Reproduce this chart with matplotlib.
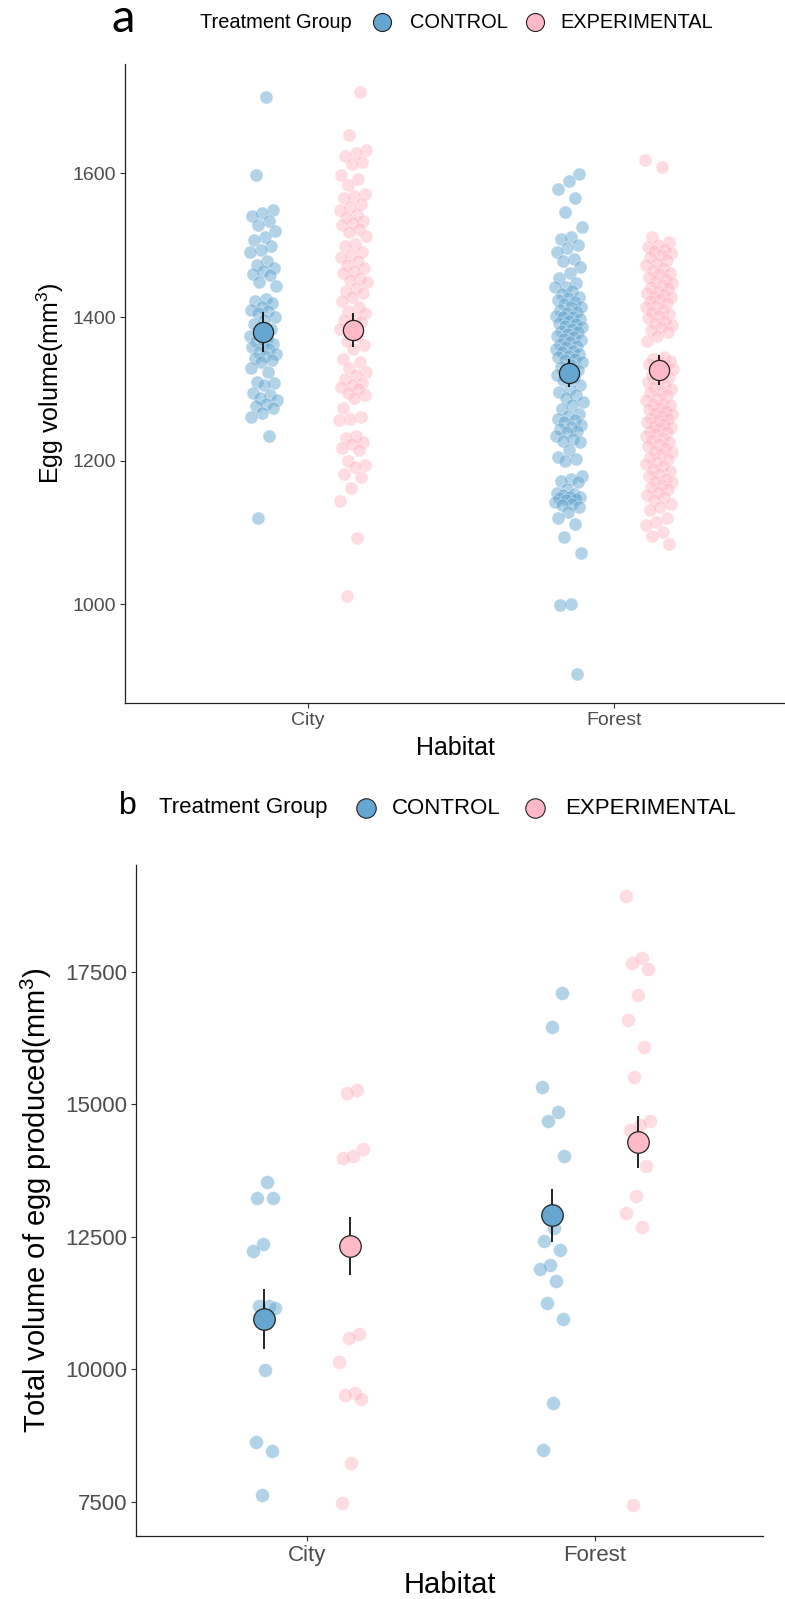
import matplotlib
matplotlib.use('Agg')
import matplotlib.pyplot as plt
from matplotlib.lines import Line2D

plt.rcParams['font.family'] = ['Liberation Sans', 'DejaVu Sans']
plt.rcParams['mathtext.fontset'] = 'custom'
plt.rcParams['mathtext.rm'] = 'Liberation Sans'
plt.rcParams['mathtext.it'] = 'Liberation Sans:italic'

# ---------------- data ----------------
habitats = ['City', 'Forest']
groups = ['CONTROL', 'EXPERIMENTAL']
group_colors = ['#65A7D0', '#FFB8C6']

# Panel a: individual egg volumes (mm^3)
a_city_control = [1707, 1598, 1549, 1545, 1541, 1534, 1528, 1520, 1512, 1507, 1499, 1494,
                  1490, 1478, 1472, 1469, 1464, 1460, 1458, 1449, 1443, 1425, 1422, 1420,
                  1414, 1410, 1408, 1405, 1400, 1396, 1390, 1384, 1378, 1373, 1370, 1367,
                  1363, 1361, 1358, 1355, 1352, 1349, 1346, 1343, 1340, 1338, 1329, 1323,
                  1310, 1308, 1305, 1294, 1291, 1288, 1285, 1279, 1276, 1273, 1267, 1261,
                  1235, 1120]
a_city_exp = [1714, 1654, 1633, 1628, 1625, 1616, 1613, 1598, 1592, 1584, 1572, 1569,
              1566, 1557, 1554, 1549, 1543, 1540, 1534, 1531, 1528, 1522, 1519, 1513,
              1502, 1499, 1490, 1487, 1484, 1478, 1472, 1469, 1464, 1461, 1455, 1452,
              1449, 1440, 1437, 1434, 1428, 1423, 1414, 1408, 1405, 1399, 1396, 1393,
              1390, 1384, 1373, 1367, 1361, 1355, 1341, 1338, 1329, 1323, 1320, 1314,
              1308, 1305, 1302, 1300, 1294, 1291, 1288, 1273, 1261, 1258, 1256, 1235,
              1232, 1226, 1223, 1218, 1215, 1200, 1194, 1191, 1182, 1177, 1162, 1144,
              1093, 1011]
a_forest_control = [1599, 1589, 1578, 1566, 1547, 1525, 1512, 1509, 1501, 1496, 1490, 1481,
                    1478, 1470, 1462, 1455, 1447, 1442, 1442, 1436, 1432, 1428, 1426, 1424,
                    1421, 1418, 1414, 1414, 1410, 1407, 1405, 1402, 1400, 1400, 1397, 1395,
                    1392, 1390, 1388, 1386, 1384, 1381, 1379, 1377, 1374, 1372, 1370, 1368,
                    1365, 1362, 1360, 1358, 1356, 1353, 1351, 1348, 1346, 1344, 1342, 1340,
                    1337, 1333, 1330, 1326, 1323, 1320, 1316, 1312, 1305, 1300, 1296, 1291,
                    1287, 1282, 1277, 1272, 1265, 1262, 1258, 1256, 1254, 1250, 1247, 1244,
                    1242, 1240, 1235, 1230, 1228, 1226, 1215, 1205, 1203, 1200, 1178, 1175,
                    1172, 1170, 1160, 1155, 1154, 1152, 1150, 1149, 1148, 1147, 1145, 1142,
                    1140, 1138, 1135, 1128, 1120, 1112, 1094, 1072, 1000, 999, 903]
a_forest_exp = [1619, 1609, 1511, 1505, 1501, 1498, 1495, 1492, 1489, 1486, 1483, 1480,
                1476, 1472, 1468, 1465, 1462, 1460, 1456, 1453, 1450, 1447, 1444, 1442,
                1440, 1437, 1434, 1432, 1430, 1428, 1425, 1422, 1419, 1416, 1414, 1410,
                1407, 1404, 1402, 1399, 1395, 1392, 1389, 1386, 1382, 1379, 1373, 1367,
                1345, 1342, 1339, 1337, 1335, 1333, 1330, 1327, 1323, 1320, 1316, 1313,
                1309, 1305, 1302, 1300, 1297, 1295, 1291, 1288, 1284, 1281, 1279, 1277,
                1274, 1272, 1269, 1267, 1265, 1262, 1260, 1258, 1256, 1254, 1251, 1249,
                1247, 1245, 1242, 1240, 1237, 1235, 1232, 1229, 1226, 1223, 1220, 1217,
                1214, 1212, 1209, 1205, 1202, 1198, 1195, 1192, 1189, 1185, 1182, 1178,
                1175, 1172, 1170, 1166, 1163, 1160, 1156, 1152, 1149, 1145, 1140, 1136,
                1131, 1120, 1115, 1110, 1101, 1095, 1084]
# order: City-CONTROL, City-EXPERIMENTAL, Forest-CONTROL, Forest-EXPERIMENTAL
a_means = [1379, 1382, 1322, 1326]
a_se = [28, 23, 20, 21]

# Panel b: total egg volume per clutch (mm^3)
b_city_control = [13542, 13240, 13240, 12360, 12240, 11195, 11195, 11150, 9987, 8627, 8463, 7626]
b_city_exp = [15273, 15223, 14159, 14033, 13989, 10666, 10585, 10132, 9547, 9509, 9433, 8225, 7470]
b_forest_control = [17109, 16466, 15330, 14854, 14680, 14031, 12660, 12426, 12252, 11977,
                    11890, 11673, 11248, 10944, 9367, 8482]
b_forest_exp = [18945, 17775, 17671, 17567, 17065, 16587, 16085, 15520, 14697, 14612, 14523,
                13834, 13268, 12947, 12686, 7441]
b_means = [10944, 12333, 12904, 14291]
b_se = [565, 548, 500, 499]

a_yticks = [1000, 1200, 1400, 1600]
b_yticks = [7500, 10000, 12500, 15000, 17500]

# ---------------- figure ----------------
W, H = 785, 1599
fig = plt.figure(figsize=(W / 100, H / 100), dpi=100)


def fx(px):
    return px / W


def fy(py):
    return 1 - py / H


def jitter(n, w, phase):
    return [(((i + 1) * 0.6180339887 + phase) % 1 - 0.5) * 2 * w for i in range(n)]


def draw_panel(ax, series, means, ses, dodge, jw, pt_s, mean_ms, ylim, yticks,
               xlim, tick_fs, title_fs, ylabel, ylab_x, xlab_y):
    pos = [1 - dodge, 1 + dodge, 2 - dodge, 2 + dodge]
    cols = [group_colors[0], group_colors[1], group_colors[0], group_colors[1]]
    for k, vals in enumerate(series):
        xs = [pos[k] + j for j in jitter(len(vals), jw, 0.13 * k)]
        ax.scatter(xs, vals, s=pt_s, color=cols[k], alpha=0.5,
                   edgecolors='white', linewidths=0.5, zorder=2)
    for k in range(4):
        ax.errorbar(pos[k], means[k], yerr=ses[k], fmt='none', ecolor='black',
                    elinewidth=1.2, capsize=0, zorder=3)
        ax.plot(pos[k], means[k], 'o', ms=mean_ms, mfc=cols[k], mec='#222222',
                mew=0.9, zorder=4)
    ax.set_xlim(*xlim)
    ax.set_ylim(*ylim)
    ax.set_xticks([1, 2])
    ax.set_xticklabels(habitats)
    ax.set_yticks(yticks)
    ax.set_yticklabels([str(t) for t in yticks])
    for s in ['top', 'right']:
        ax.spines[s].set_visible(False)
    for s in ['left', 'bottom']:
        ax.spines[s].set_linewidth(0.9)
        ax.spines[s].set_color('#222222')
    ax.tick_params(axis='both', length=3.5, width=0.8, color='#333333',
                   labelcolor='#4D4D4D', labelsize=tick_fs, pad=3)
    ax.set_xlabel('Habitat', fontsize=title_fs, color='black')
    ax.set_ylabel(ylabel, fontsize=title_fs, color='black')
    ax.yaxis.set_label_coords(ylab_x, 0.5)
    ax.xaxis.set_label_coords(0.5, xlab_y)
    ax.xaxis.label.set_va('center')
    ax.yaxis.label.set_va('center')


# Panel a axes: x 125..785 px, y 64..703 px
axa = fig.add_axes([fx(125), fy(703), fx(785) - fx(125), fy(64) - fy(703)])
draw_panel(axa, [a_city_control, a_city_exp, a_forest_control, a_forest_exp],
           a_means, a_se, dodge=0.147, jw=0.045, pt_s=88, mean_ms=14.5,
           ylim=(862.5, 1752.5), yticks=a_yticks, xlim=(0.402, 2.559),
           tick_fs=14, title_fs=18, ylabel='Egg volume(mm$^{3}$)',
           ylab_x=(50 - 125) / 660, xlab_y=-(748 - 703) / 639)

# Panel b axes: x 136..763 px, y 865..1536 px
axb = fig.add_axes([fx(136), fy(1536), fx(763) - fx(136), fy(865) - fy(1536)])
draw_panel(axb, [b_city_control, b_city_exp, b_forest_control, b_forest_exp],
           b_means, b_se, dodge=0.15, jw=0.045, pt_s=100, mean_ms=15.5,
           ylim=(6852, 19522), yticks=b_yticks, xlim=(0.406, 2.583),
           tick_fs=16, title_fs=21, ylabel='Total volume of egg produced(mm$^{3}$)',
           ylab_x=(36 - 136) / 627, xlab_y=-(1585 - 1536) / 671)


def legend_row(label_letter, letter_x, letter_y, letter_fs, letter_family, y, fs,
               title_x, c1_x, t1_x, c2_x, t2_x, ms):
    fig.text(fx(letter_x), fy(letter_y), label_letter, fontsize=letter_fs, ha='center',
             va='center', family=letter_family, color='black')
    fig.text(fx(title_x), fy(y), 'Treatment Group', fontsize=fs, ha='left', va='center')
    for cx, col in [(c1_x, group_colors[0]), (c2_x, group_colors[1])]:
        fig.add_artist(Line2D([fx(cx)], [fy(y)], marker='o', ms=ms, mfc=col,
                              mec='#222222', mew=0.8, linestyle='none',
                              transform=fig.transFigure))
    fig.text(fx(t1_x), fy(y), groups[0], fontsize=fs, ha='left', va='center')
    fig.text(fx(t2_x), fy(y), groups[1], fontsize=fs, ha='left', va='center')


legend_row('a', 123, 19, 34, ['Lato', 'DejaVu Sans'], 22, 14.4,
           200, 382, 410, 535, 560, 13)
legend_row('b', 128, 806, 23, ['Liberation Sans', 'DejaVu Sans'], 808, 16,
           159, 366, 392, 535, 565, 14)

fig.savefig('out.png', dpi=100)
